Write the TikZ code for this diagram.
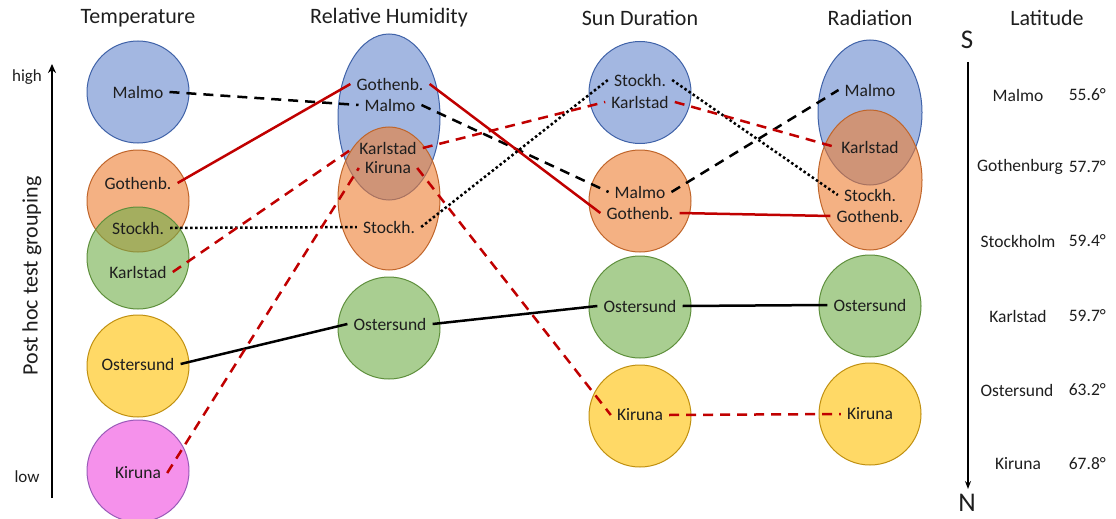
\documentclass[tikz,border=0pt]{standalone}
\usepackage{fontspec}
\setmainfont{Carlito}
\usetikzlibrary{arrows.meta}
\definecolor{cB}{HTML}{6687CD}
\definecolor{cBd}{HTML}{3F62A8}
\definecolor{cO}{HTML}{ED7D31}
\definecolor{cOd}{HTML}{C0652A}
\definecolor{cG}{HTML}{70AD47}
\definecolor{cGd}{HTML}{5E8F3C}
\definecolor{cY}{HTML}{FFC000}
\definecolor{cYd}{HTML}{C09010}
\definecolor{cP}{HTML}{EE48DE}
\definecolor{cPd}{HTML}{9A5AB8}
\definecolor{lred}{HTML}{C00000}
\definecolor{txt}{HTML}{1E1E1E}
\begin{document}
\begin{tikzpicture}[x=1pt,y=-1pt,
  lab/.style={font=\fontsize{17.5}{21}\selectfont, text=txt, inner sep=6pt},
  ttl/.style={font=\fontsize{22}{26}\selectfont, text=txt},
  blob/.style={line width=1pt, fill opacity=0.6},
  con/.style={line width=2.5pt},
  blk/.style={con, draw=black},
  rd/.style={con, draw=lred},
  dsh/.style={dash pattern=on 10pt off 7pt},
  dotline/.style={dash pattern=on 2.5pt off 2.5pt}]
\useasboundingbox (0,0) rectangle (1116,519);

% titles
\node[ttl] (tT) at (138,18) {Temperature};
\node[ttl] (tH) at (389,18) {Relative Humidity};
\node[ttl] (tS) at (640,18) {Sun Duration};
\node[ttl] (tR) at (870,18) {Radiation};
\node[ttl] (tL) at (1047,18) {Latitude};

% left axis
\coordinate (axB) at (52,498);
\coordinate (axT) at (52,64);
\draw[line width=2.5pt, -{Stealth[length=9pt,width=8pt]}] (axB) -- (axT);
\node[font=\fontsize{17}{20}\selectfont, text=txt] (hi) at (27,77) {high};
\node[font=\fontsize{17}{20}\selectfont, text=txt] (lo) at (27,477) {low};
\node[ttl, rotate=90] (ph) at (32,276) {Post hoc test grouping};

% shapes: Temperature
\filldraw[blob, fill=cB, draw=cBd] (138,92) circle [radius=51pt];
\filldraw[blob, fill=cO, draw=cOd] (138,201) circle [radius=51pt];
\filldraw[blob, fill=cG, draw=cGd] (138,258) circle [radius=51pt];
\filldraw[blob, fill=cY, draw=cYd] (138,366) circle [radius=51pt];
\filldraw[blob, fill=cP, draw=cPd] (138,471) circle [radius=51pt];
% Relative humidity
\filldraw[blob, fill=cB, draw=cBd] (389,117) ellipse [x radius=51pt, y radius=83pt];
\filldraw[blob, fill=cO, draw=cOd] (389,198.5) ellipse [x radius=51pt, y radius=71.5pt];
\filldraw[blob, fill=cG, draw=cGd] (389,328) circle [radius=51pt];
% Sun duration
\filldraw[blob, fill=cB, draw=cBd] (640,92.5) circle [radius=51pt];
\filldraw[blob, fill=cO, draw=cOd] (640,201) circle [radius=51pt];
\filldraw[blob, fill=cG, draw=cGd] (640,307) circle [radius=51pt];
\filldraw[blob, fill=cY, draw=cYd] (640,416) circle [radius=51pt];
% Radiation
\filldraw[blob, fill=cB, draw=cBd] (870,112.5) ellipse [x radius=52pt, y radius=72.5pt];
\filldraw[blob, fill=cO, draw=cOd] (870,180) ellipse [x radius=52pt, y radius=70pt];
\filldraw[blob, fill=cG, draw=cGd] (870,306) circle [radius=51pt];
\filldraw[blob, fill=cY, draw=cYd] (870,414) circle [radius=51pt];

% labels
\node[lab] (tMalmo) at (138,92) {Malmo};
\node[lab] (tGoth) at (138,183) {Gothenb.};
\node[lab] (tStock) at (138,228) {Stockh.};
\node[lab] (tKarl) at (138,272) {Karlstad};
\node[lab] (tOst) at (138,364) {Ostersund};
\node[lab] (tKir) at (138,473) {Kiruna};

\node[lab] (hGoth) at (390,84) {Gothenb.};
\node[lab] (hMalmo) at (390,105) {Malmo};
\node[lab] (hKarl) at (388,148) {Karlstad};
\node[lab] (hKir) at (388,168) {Kiruna};
\node[lab] (hStock) at (389,227) {Stockh.};
\node[lab] (hOst) at (390,324) {Ostersund};

\node[lab] (sStock) at (640,80) {Stockh.};
\node[lab] (sKarl) at (640,102) {Karlstad};
\node[lab] (sMalmo) at (640,192) {Malmo};
\node[lab] (sGoth) at (640,213) {Gothenb.};
\node[lab] (sOst) at (640,306) {Ostersund};
\node[lab] (sKir) at (640,415) {Kiruna};

\node[lab] (rMalmo) at (870,90) {Malmo};
\node[lab] (rKarl) at (870,147) {Karlstad};
\node[lab] (rStock) at (870,195) {Stockh.};
\node[lab] (rGoth) at (870,216) {Gothenb.};
\node[lab] (rOst) at (870,305) {Ostersund};
\node[lab] (rKir) at (870,414) {Kiruna};

% connectors
\draw[blk,dsh] (tMalmo.east) -- (hMalmo.west);
\draw[blk,dsh] (hMalmo.east) -- (sMalmo.west);
\draw[blk,dsh] (sMalmo.east) -- (rMalmo.west);

\draw[rd] (tGoth.east) -- (hGoth.west);
\draw[rd] (hGoth.east) -- (sGoth.west);
\draw[rd] (sGoth.east) -- (rGoth.west);

\draw[blk,dotline] (tStock.east) -- (hStock.west);
\draw[blk,dotline] (hStock.east) -- (sStock.west);
\draw[blk,dotline] (sStock.east) -- (rStock.west);

\draw[rd,dsh] (tKarl.east) -- (hKarl.west);
\draw[rd,dsh] (hKarl.east) -- (sKarl.west);
\draw[rd,dsh] (sKarl.east) -- (rKarl.west);

\draw[blk] (tOst.east) -- (hOst.west);
\draw[blk] (hOst.east) -- (sOst.west);
\draw[blk] (sOst.east) -- (rOst.west);

\draw[rd,dsh] (tKir.east) -- (hKir.west);
\draw[rd,dsh] (hKir.east) -- (sKir.west);
\draw[rd,dsh] (sKir.east) -- (rKir.west);

% latitude column
\node[font=\fontsize{27}{30}\selectfont, text=txt] (S) at (967,40) {S};
\node[font=\fontsize{27}{30}\selectfont, text=txt] (N) at (967,503) {N};
\coordinate (laT) at (968,62);
\coordinate (laB) at (968,489);
\draw[line width=1.3pt, -{Stealth[length=8pt,width=6pt]}] (laT) -- (laB);
\node[lab] (lM) at (1018,95) {Malmo};
\node[lab] (lG) at (1020,167) {Gothenburg};
\node[lab] (lS) at (1018,241) {Stockholm};
\node[lab] (lK) at (1018,316) {Karlstad};
\node[lab] (lO) at (1017,390) {Ostersund};
\node[lab] (lKi) at (1018,464) {Kiruna};
\node[lab, anchor=east, inner sep=0pt] (dM) at (1106,95) {55.6°};
\node[lab, anchor=east, inner sep=0pt] (dG) at (1106,167) {57.7°};
\node[lab, anchor=east, inner sep=0pt] (dS) at (1106,241) {59.4°};
\node[lab, anchor=east, inner sep=0pt] (dK) at (1106,316) {59.7°};
\node[lab, anchor=east, inner sep=0pt] (dO) at (1106,390) {63.2°};
\node[lab, anchor=east, inner sep=0pt] (dKi) at (1106,464) {67.8°};
\end{tikzpicture}
\end{document}
